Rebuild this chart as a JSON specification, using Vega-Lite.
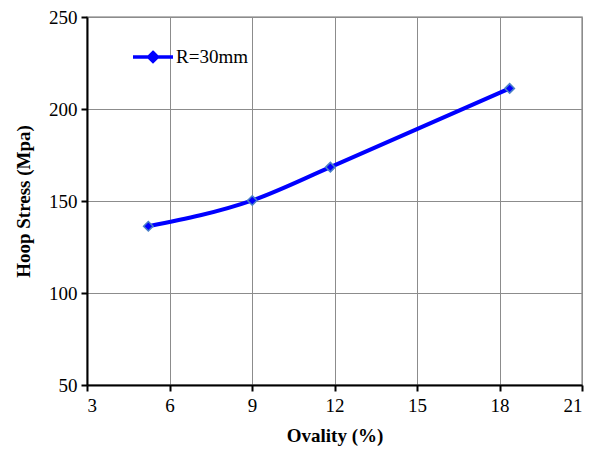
{
  "$schema": "https://vega.github.io/schema/vega-lite/v6.json",
  "width": 495,
  "height": 368,
  "autosize": "none",
  "padding": {"left": 87, "top": 17, "right": 15, "bottom": 69},
  "background": "white",
  "config": {
    "view": {"stroke": "#a0a0a0", "strokeWidth": 1.5},
    "font": "Liberation Serif"
  },
  "data": {
    "values": [
      {"ovality": 5.23, "stress": 136.3, "series": "R=30mm"},
      {"ovality": 9.01, "stress": 150.3, "series": "R=30mm"},
      {"ovality": 11.85, "stress": 168.4, "series": "R=30mm"},
      {"ovality": 18.37, "stress": 211.2, "series": "R=30mm"}
    ]
  },
  "mark": {"type": "line", "interpolate": "monotone", "strokeWidth": 4, "point": {"shape": "diamond", "size": 90, "filled": true, "stroke": "#4a80c8", "strokeWidth": 1.5}},
  "encoding": {
    "x": {
      "field": "ovality", "type": "quantitative",
      "scale": {"domain": [3, 21], "nice": false, "zero": false},
      "axis": {
        "values": [3, 6, 9, 12, 15, 18, 21],
        "title": "Ovality (%)",
        "titleFont": "Liberation Serif", "titleFontSize": 19, "titleFontWeight": "bold", "titleColor": "black",
        "titlePadding": 11,
        "labelFont": "Liberation Serif", "labelFontSize": 19, "labelColor": "black", "labelPadding": 5,
        "domainColor": "black", "domainWidth": 2, "tickColor": "black", "tickWidth": 2, "tickSize": 6,
        "grid": true, "gridColor": "#8c8c8c", "gridWidth": 1
      }
    },
    "y": {
      "field": "stress", "type": "quantitative",
      "scale": {"domain": [50, 250], "nice": false, "zero": false},
      "axis": {
        "values": [50, 100, 150, 200, 250],
        "title": "Hoop Stress (Mpa)",
        "titleFont": "Liberation Serif", "titleFontSize": 19, "titleFontWeight": "bold", "titleColor": "black",
        "titlePadding": 15,
        "labelFont": "Liberation Serif", "labelFontSize": 19, "labelColor": "black", "labelPadding": 4,
        "domainColor": "black", "domainWidth": 2, "tickColor": "black", "tickWidth": 2, "tickSize": 6,
        "grid": true, "gridColor": "#8c8c8c", "gridWidth": 1
      }
    },
    "color": {
      "field": "series", "type": "nominal",
      "scale": {"range": ["#0000ff"]},
      "legend": {
        "title": null,
        "orient": "none",
        "legendX": 44,
        "legendY": 18,
        "symbolType": "M-1,0H1M0,-0.22L0.22,0L0,0.22L-0.22,0Z",
        "symbolSize": 1600,
        "symbolStrokeWidth": 3.5,
        "symbolFillColor": "#0000ff",
        "labelFont": "Liberation Serif", "labelFontSize": 19, "labelColor": "black",
        "labelOffset": 1
      }
    }
  }
}
